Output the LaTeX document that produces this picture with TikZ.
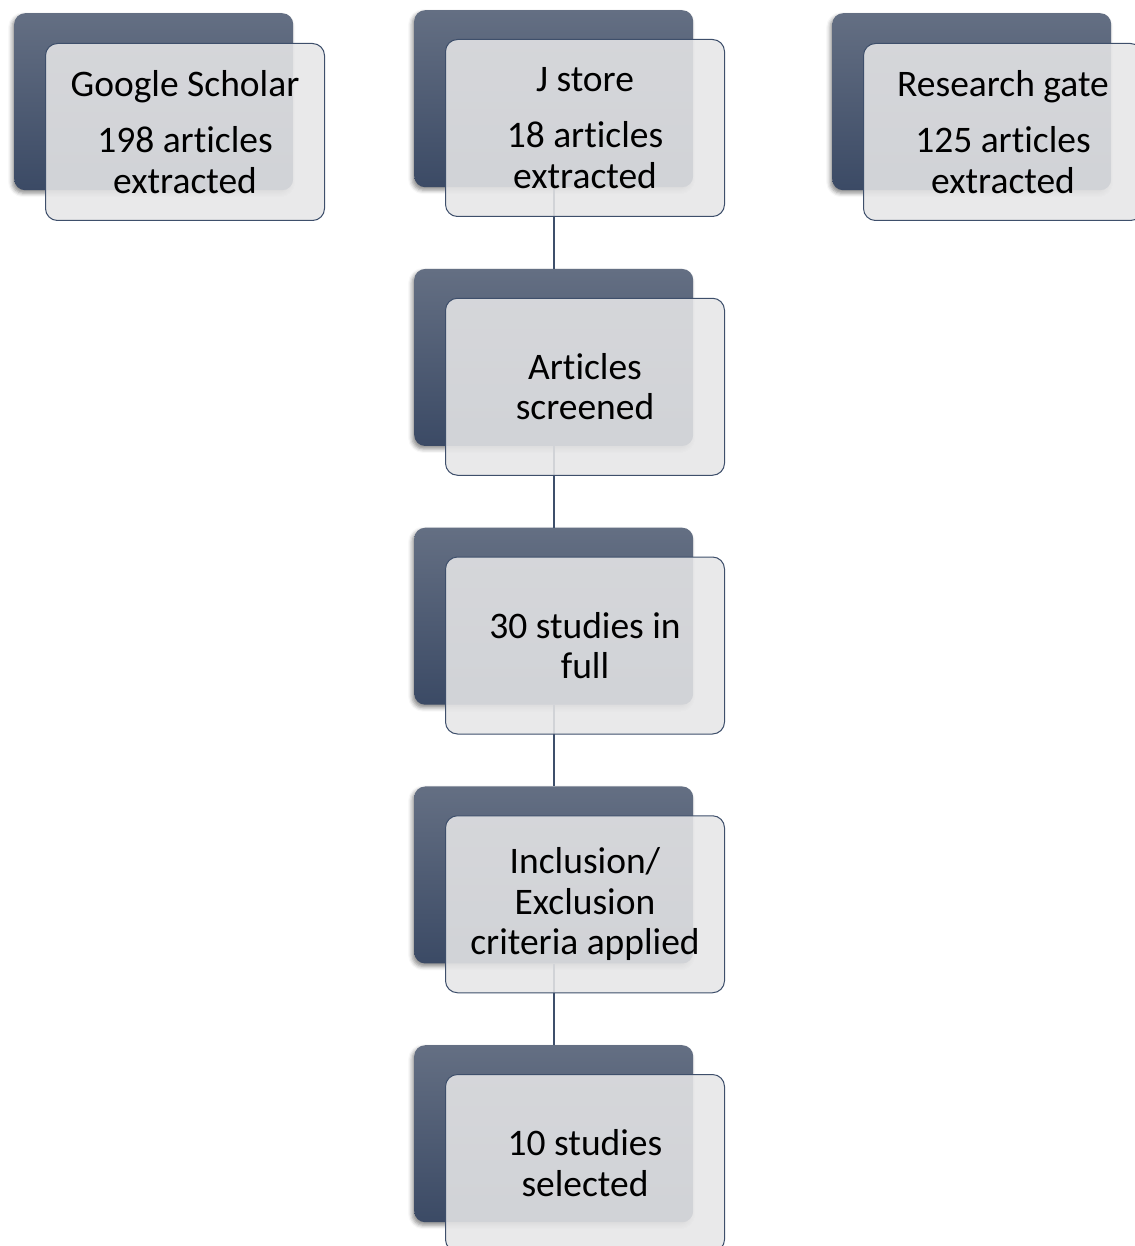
\documentclass[tikz,border=0pt]{standalone}
\usepackage{fontspec}
\setmainfont{Carlito}[Ligatures={NoCommon,NoContextual}]
\usetikzlibrary{shadows.blur}
\definecolor{darktop}{HTML}{646F83}
\definecolor{darkbot}{HTML}{3B4A65}
\definecolor{edge}{HTML}{3E4F6B}
\definecolor{lightfill}{HTML}{E6E6E7}
\tikzset{
  back/.style={rectangle, rounded corners=11pt, minimum width=279pt, minimum height=177pt,
    inner sep=0pt, anchor=north west, top color=darktop, bottom color=darkbot, draw=none,
    blur shadow={shadow xshift=-2pt, shadow yshift=-3pt, shadow blur radius=4pt, shadow opacity=45}},
  front/.style={rectangle, rounded corners=12pt, minimum width=279pt, minimum height=177pt,
    inner sep=0pt, anchor=north west, fill=lightfill, fill opacity=0.88, text opacity=1,
    draw=edge, line width=1pt, align=center, font=\fontsize{37.5}{40.5}\selectfont},
  link/.style={draw=edge, line width=2pt}
}
\begin{document}
\begin{tikzpicture}[x=1pt,y=-1pt]
\useasboundingbox (0,0) rectangle (1134,1246);
% back boxes
\node[back] (gsb) at (14,13) {};
\node[back] (jsb) at (414,10) {};
\node[back] (rgb) at (832,13) {};
\node[back] (scb) at (414,268.75) {};
\node[back] (ftb) at (414,527.5) {};
\node[back] (icb) at (414,786.25) {};
\node[back] (slb) at (414,1045) {};
% connectors
\draw[link] (jsb.south) -- (scb.north);
\draw[link] (scb.south) -- (ftb.north);
\draw[link] (ftb.south) -- (icb.north);
\draw[link] (icb.south) -- (slb.north);
% front boxes
\node[front] (gs) at (45,43) {Google Scholar\\[16pt]198 articles\\extracted};
\node[front] (js) at (445,39) {J store\\[16pt]18 articles\\extracted};
\node[front] (rg) at (863,43) {Research gate\\[16pt]125 articles\\extracted};
\node[front] (sc) at (445,297.75) {Articles\\screened};
\node[front] (ft) at (445,556.5) {30 studies in\\full};
\node[front] (ic) at (445,815.25) {Inclusion/\\Exclusion\\criteria applied};
\node[front] (sl) at (445,1074) {10 studies\\selected};
\end{tikzpicture}
\end{document}
